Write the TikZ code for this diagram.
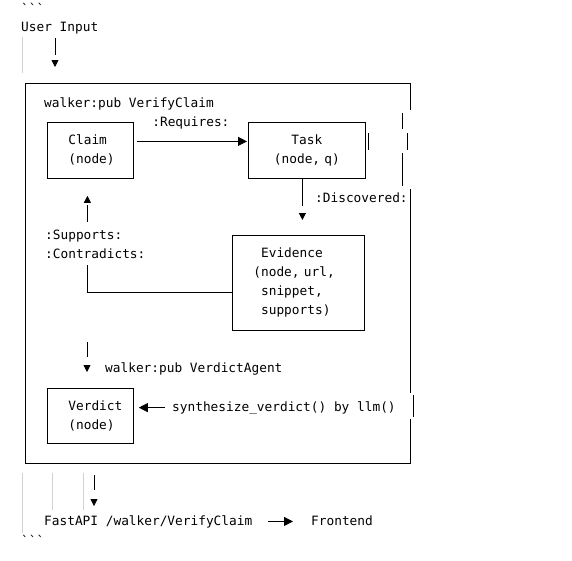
\documentclass[tikz,border=0pt]{standalone}
\usepackage{fontspec}
\setmonofont{DejaVu Sans Mono}
\usetikzlibrary{arrows.meta}
\begin{document}
\begin{tikzpicture}[x=1pt,y=-1pt,
    every node/.style={font=\ttfamily\fontsize{12.8}{19}\selectfont,inner sep=0pt},
    txt/.style={anchor=base west},
    box/.style={draw,anchor=north west,inner xsep=21pt,align=left,line width=0.8pt},
    frame/.style={line width=0.8pt},
    guide/.style={draw=black!18,line width=0.8pt},
    flow/.style={line width=0.8pt,-{Triangle[length=7pt,width=7pt]}},
    flowh/.style={line width=0.8pt,-{Triangle[length=9pt,width=9pt]}}]
    \useasboundingbox (0,0) rectangle (572,560);
    \node[txt] (fence) at (21,13) {```};
    \node[txt] (user) at (21,31) {User Input};
    \node[txt] (vc) at (44,107) {walker:pub VerifyClaim};
    \node[box,text width=44pt,minimum height=56pt] (claim) at (47,122) {Claim\\(node)};
    \node[box,align=center,inner xsep=20pt,text width=77pt,minimum height=56pt] (task) at (248,122) {Task\\(node, q)};
    \node[txt] (disc) at (315,202) {:Discovered:};
    \node[anchor=west,align=left] (rel) at (45,244) {:Supports:\\:Contradicts:};
    \node[box,text width=90pt,minimum height=95pt] (ev) at (232,235) {\phantom{(}Evidence\\(node, url,\\\phantom{(}snippet,\\\phantom{(}supports)};
    \node[txt] (va) at (105,372) {walker:pub VerdictAgent};
    \node[box,text width=44pt,minimum height=55pt] (verdict) at (47,388) {Verdict\\(node)};
    \node[txt] (synth) at (172,411) {synthesize\_verdict() by llm()};
    \node[txt] (api) at (44,525) {FastAPI /walker/VerifyClaim};
    \node[txt] (front) at (311,525) {Frontend};
    \node[txt] (fenceb) at (21,545) {```};
    \coordinate (ftop) at (55,83);
    \coordinate (vstart) at (87,342);
    \coordinate (fbot) at (94,463);
    \draw[frame] (410,110) -- (410,83) -- (25,83) -- (25,463) -- (410,463) -- (410,419);
    \draw[frame] (410,189) -- (410,393);
    \draw[frame] (402,113) -- (402,129);
    \draw[frame] (407,133) -- (407,150);
    \draw[frame] (402,153) -- (402,186);
    \draw[frame] (413,395) -- (413,417);
    \draw[frame] (368,133) -- (368,150);
    \draw[guide] (22,37) -- (22,73);
    \draw[guide] (22,473) -- (22,533);
    \draw[guide] (52,473) -- (52,510);
    \draw[guide] (83,473) -- (83,510);
    \draw[flow,dash pattern=on 17pt off 30pt,shorten <=4pt,shorten >=16pt] (user.south -| ftop) -- (ftop);
    \draw[flowh,shorten <=3pt,shorten >=1pt] ([yshift=9pt]claim.east) -- ([yshift=9pt]task.west)
        node[midway,anchor=base,yshift=15pt] (req) {:Requires:};
    \draw[flow,dash pattern=on 27pt off 20pt,shorten >=15pt] ([xshift=-4.5pt]task.south) -- ([xshift=-4.5pt]task.south |- ev.north);
    \draw[flow,dash pattern=on 172pt off 43pt on 17pt off 20pt,shorten >=17pt] ([yshift=-9.5pt]ev.west) -| ([xshift=-3pt]claim.south);
    \draw[flow,dash pattern=on 15pt off 20pt,shorten >=16pt] (vstart) -- (vstart |- verdict.north);
    \draw[flowh,shorten <=7pt,shorten >=5pt] (synth.west) -- (synth.west -| verdict.east);
    \draw[flow,dash pattern=on 15pt off 20pt,shorten <=12pt,shorten >=9pt] (fbot) -- (fbot |- api.north);
    \draw[flowh,shorten <=16pt,shorten >=18pt] (api.east) -- (api.east -| front.west);
\end{tikzpicture}
\end{document}
